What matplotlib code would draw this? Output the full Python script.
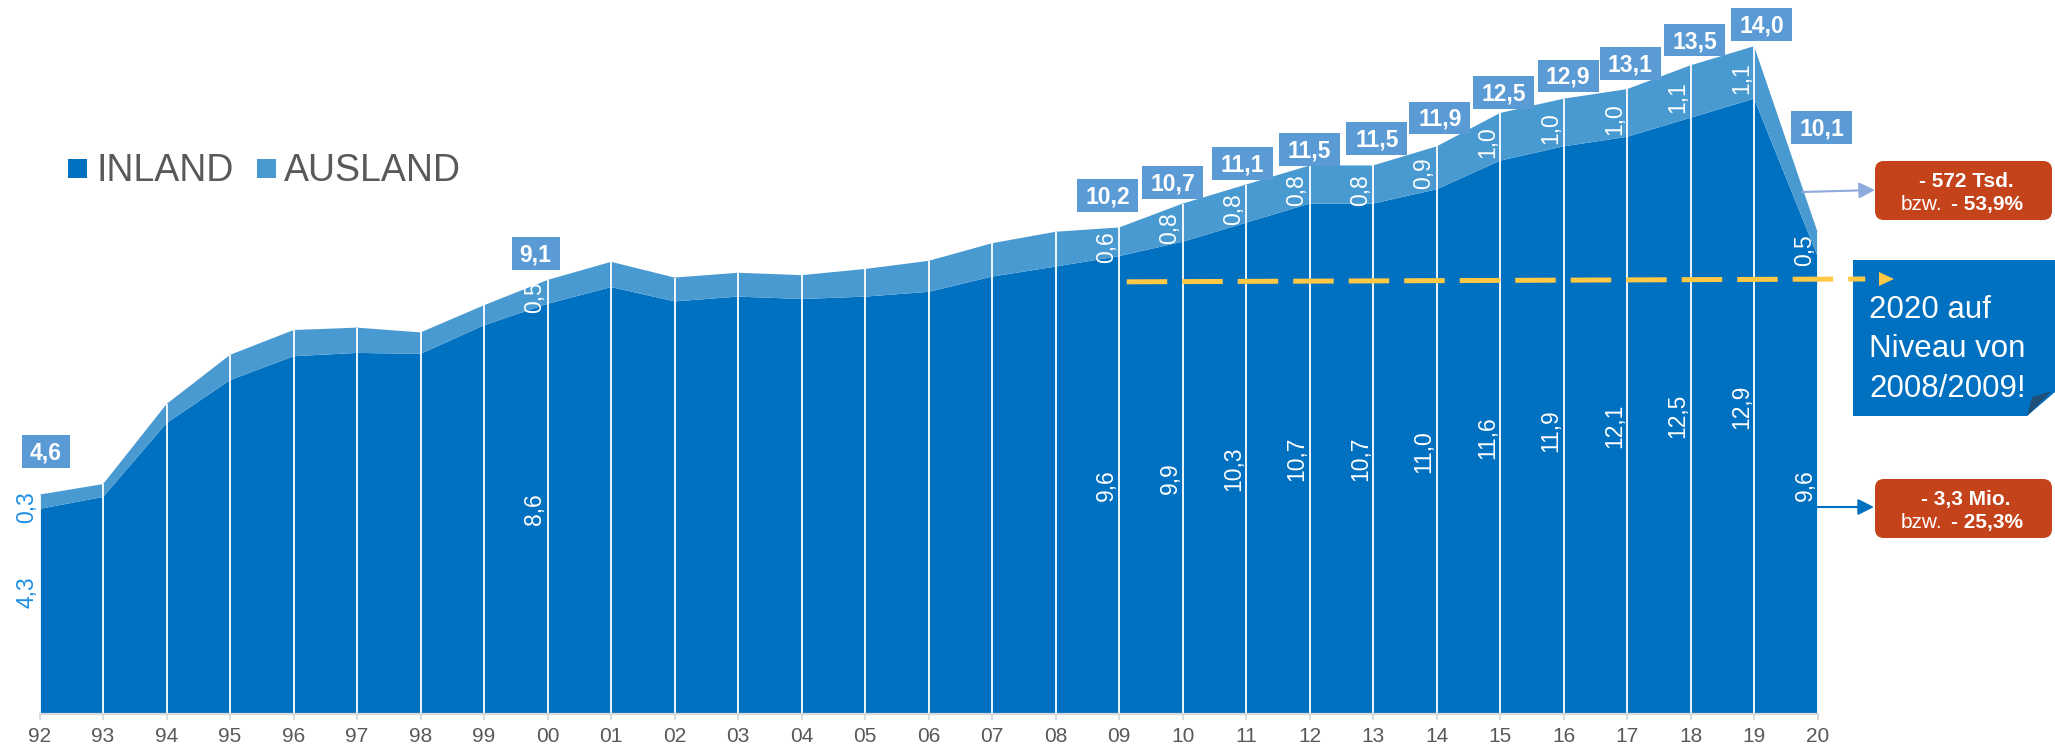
import numpy as np
import matplotlib.pyplot as plt
from matplotlib.patches import FancyBboxPatch, Polygon, Rectangle
from matplotlib.transforms import Affine2D

plt.rcParams['font.family'] = ['Liberation Sans', 'DejaVu Sans']

# Daten (Mio.)
jahre = ['92', '93', '94', '95', '96', '97', '98', '99', '00', '01', '02', '03', '04', '05',
         '06', '07', '08', '09', '10', '11', '12', '13', '14', '15', '16', '17', '18', '19', '20']
inland = [4.3, 4.55, 6.1, 7.0, 7.5, 7.57, 7.55, 8.15, 8.6, 8.95, 8.65, 8.75, 8.7, 8.75,
          8.85, 9.17, 9.38, 9.6, 9.9, 10.3, 10.7, 10.7, 11.0, 11.6, 11.9, 12.1, 12.5, 12.9, 9.6]
ausland = [0.3, 0.27, 0.4, 0.53, 0.55, 0.53, 0.45, 0.42, 0.5, 0.53, 0.5, 0.5, 0.5, 0.58,
           0.65, 0.7, 0.73, 0.6, 0.8, 0.8, 0.8, 0.8, 0.9, 1.0, 1.0, 1.0, 1.1, 1.1, 0.5]

# beschriftete Jahre und Gesamtwerte
box_jahre = ['92', '00', '09', '10', '11', '12', '13', '14', '15', '16', '17', '18', '19', '20']
box_werte = [4.6, 9.1, 10.2, 10.7, 11.1, 11.5, 11.5, 11.9, 12.5, 12.9, 13.1, 13.5, 14.0, 10.1]

# Lage der Kaesten (x-Versatz in Jahren, y-Versatz in Mio.)
box_dx = [0.1, -0.19, -0.18, -0.16, -0.06, 0.0, 0.06, 0.05, 0.05, 0.07, 0.05, 0.06, 0.12, 0.06]
box_dy = [0.9, 0.55, 0.67, 0.44, 0.44, 0.33, 0.56, 0.6, 0.53, 0.48, 0.54, 0.63, 0.45, 2.2]

c_inland = '#0070C0'
c_ausland = '#4A9AD2'
c_box = '#5B9BD5'
c_rot = '#C5431A'
c_grau = '#595959'
c_gelb = '#FFC845'

W, H = 2055, 749
fig = plt.figure(figsize=(W / 100, H / 100), dpi=100)

# Achse: 92 bei x=39.6 px, 20 bei x=1817.6 px, Basislinie bei y=714 px
x_px = (1817.6 - 39.6) / 28   # px pro Jahr
y_px = 47.7                   # px pro Mio.
ax = fig.add_axes([39.6 / W, (H - 714) / H, (1817.6 - 39.6) / W, 714 / H])
# Pixel-Koordinaten (y von oben) fuer Anmerkungen
px = Affine2D().scale(1 / W, -1 / H).translate(0, 1) + fig.transFigure

x = np.arange(len(jahre))
gesamt = np.array(inland) + np.array(ausland)
ax.stackplot(x, inland, ausland, colors=[c_inland, c_ausland], linewidth=0)
ax.vlines(x, 0, gesamt, colors='white', lw=1.3, zorder=2)

ax.set_xlim(0, len(jahre) - 1)
ax.set_ylim(0, 714 / y_px)
ax.set_xticks(x)
ax.set_xticklabels(jahre)
ax.set_yticks([])
for s in ['left', 'right', 'top']:
    ax.spines[s].set_visible(False)
ax.spines['bottom'].set_color('#D9D9D9')
ax.spines['bottom'].set_linewidth(1.6)
ax.tick_params(axis='x', length=4, width=1.4, color='#D9D9D9', labelsize=15,
               labelcolor=c_grau, pad=5.5)
ax.patch.set_alpha(0)

# Beschriftungen
def fmt(v):
    return '{:.1f}'.format(v).replace('.', ',')

for j, wert, dx, dy in zip(box_jahre, box_werte, box_dx, box_dy):
    i = jahre.index(j)
    txt = fmt(wert)
    cx, cy = i + dx, wert + dy
    bw = (13 * len(txt) + 9) / x_px
    bh = 32.5 / y_px
    ax.add_patch(Rectangle((cx - bw / 2, cy - bh / 2), bw, bh, fc=c_box, ec='none',
                           clip_on=False, zorder=6))
    ax.text(cx, cy - 8.2 / y_px, txt, ha='center', va='baseline', fontsize=16.5,
            weight='bold', color='white', zorder=7)
    farbe = '#1C8FE6' if j == '92' else 'white'
    y_in = inland[i] / 2 + (0.4 if j == '92' else 0)
    ax.text(i - 0.2, y_in, fmt(inland[i]), rotation=90, ha='center', va='center',
            fontsize=16.5, color=farbe, zorder=5)
    ax.text(i - 0.2, inland[i] + ausland[i] / 2 - 0.12, fmt(ausland[i]), rotation=90,
            ha='center', va='center', fontsize=16.5, color=farbe, zorder=5)

# Legende
ax.add_patch(Rectangle((68, 159), 19, 19, transform=px, fc=c_inland, ec='none', clip_on=False))
ax.text(97, 181, 'INLAND', transform=px, fontsize=27, color=c_grau, va='baseline')
ax.add_patch(Rectangle((257, 159), 19, 19, transform=px, fc=c_ausland, ec='none', clip_on=False))
ax.text(284, 181, 'AUSLAND', transform=px, fontsize=27, color=c_grau, va='baseline')

# Hinweiskasten rechts
ax.add_patch(Polygon([(1853, 260), (2055, 260), (2055, 392), (2027, 416), (1853, 416)],
                     closed=True, transform=px, fc=c_inland, ec='none', clip_on=False, zorder=4))
ax.add_patch(Polygon([(2027, 416), (2052, 391), (2032, 397)], closed=True, transform=px,
                     fc='#1F4E79', ec='none', clip_on=False, zorder=4))
ax.text(1869, 318, '2020 auf', transform=px, fontsize=22.5, color='white', zorder=6)
ax.text(1869, 357, 'Niveau von', transform=px, fontsize=22.5, color='white', zorder=6)
ax.text(1869, 397, '2008/2009!', transform=px, fontsize=22.5, color='white', zorder=6)

# gelbe Linie (Niveau 2008/2009)
ax.plot([17.12, 28.75], [9.06, 9.12], color=c_gelb, lw=3.6, dashes=(8.1, 3.0),
        dash_capstyle='butt', clip_on=False, zorder=5)
ax.add_patch(Polygon([(1879, 272), (1879, 286), (1894, 279)], closed=True, transform=px,
                     fc=c_gelb, ec='none', clip_on=False, zorder=5))

# rote Kaesten
for y0, zeile1, zeile2 in [(161, '- 572 Tsd.', '- 53,9%'), (479, '- 3,3 Mio.', '- 25,3%')]:
    ax.add_patch(FancyBboxPatch((1875, y0), 177, 59, boxstyle='round,pad=0,rounding_size=9',
                                transform=px, fc=c_rot, ec='none', clip_on=False, zorder=4))
    ax.text(1966, y0 + 26, zeile1, transform=px, fontsize=15, weight='bold', color='white',
            ha='center', va='baseline', zorder=6)
    ax.text(1942, y0 + 49, 'bzw.', transform=px, fontsize=15, color='white',
            ha='right', va='baseline', zorder=6)
    ax.text(1951, y0 + 49, zeile2, transform=px, fontsize=15, weight='bold', color='white',
            ha='left', va='baseline', zorder=6)

ax.annotate('', xy=(1875, 190), xytext=(1802, 192), xycoords=px, textcoords=px,
            arrowprops=dict(arrowstyle='-|>', color='#8FAADC', lw=1.5, mutation_scale=24,
                            shrinkA=0, shrinkB=0))
ax.annotate('', xy=(1874, 507), xytext=(1817, 507), xycoords=px, textcoords=px,
            arrowprops=dict(arrowstyle='-|>', color=c_inland, lw=1.5, mutation_scale=24,
                            shrinkA=0, shrinkB=0))

fig.savefig('out.png', dpi=100)
